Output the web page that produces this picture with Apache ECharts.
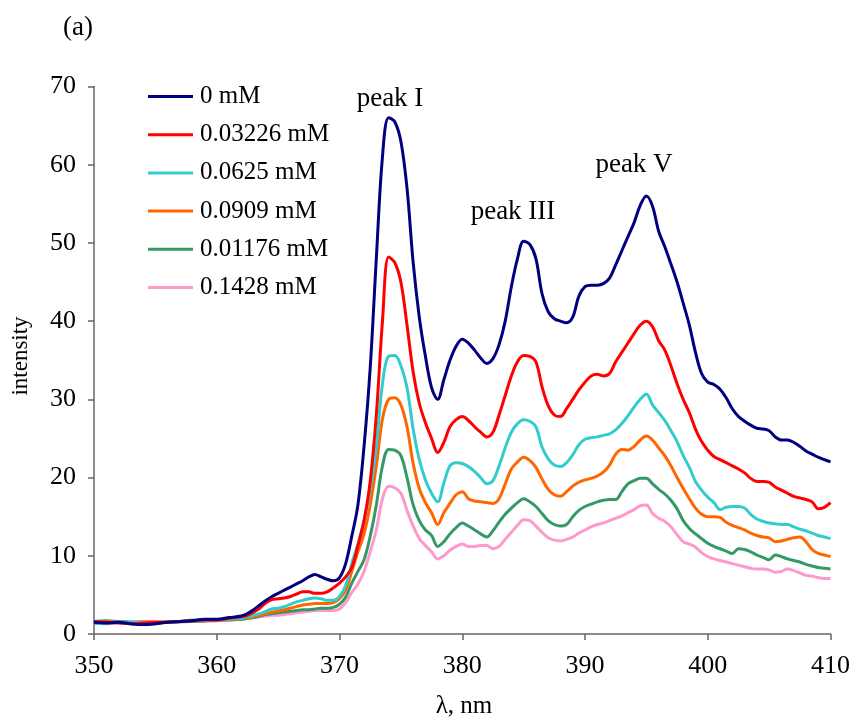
<!DOCTYPE html>
<html>
<head>
<meta charset="utf-8">
<script src="https://cdn.jsdelivr.net/npm/echarts@6/dist/echarts.min.js"></script>
<style>html,body{margin:0;padding:0;background:#fff;}#c{width:853px;height:721px;}</style>
</head>
<body>
<div id="c"></div>
<script>
var wavelength = [350,351,352,353,354,355,356,357,358,359,360,361,362,
362.5,363,363.5,364,364.5,365,365.5,366,366.5,367,367.5,368,368.5,369,369.5,370,370.5,371,371.5,372,372.5,373,373.5,374,374.5,375,375.5,376,376.5,377,377.5,378,378.5,379,379.5,380,380.5,381,381.5,382,382.5,383,383.5,384,384.5,385,385.5,386,386.5,387,387.5,388,388.5,389,389.5,390,390.5,391,391.5,392,392.5,393,393.5,394,394.5,395,395.5,396,396.5,397,397.5,398,398.5,399,399.5,400,400.5,401,401.5,402,402.5,403,403.5,404,404.5,405,405.5,406,406.5,407,407.5,408,408.5,409,409.5,410];

var s0mM = [1.5,1.4,1.5,1.3,1.2,1.3,1.5,1.6,1.7,1.9,1.9,2.1,2.3,
2.6,3.1,3.7,4.3,4.8,5.2,5.6,6.0,6.4,6.8,7.3,7.6,7.3,7.0,6.8,7.2,9.0,12.5,16.5,24,34,48,61,66,65.5,63,57,47.5,40.5,35.5,31.5,30.0,32.5,35.0,36.8,37.7,37.2,36.3,35.3,34.6,35.2,37.0,40.0,44.4,48.0,50.2,49.8,48.0,43.5,41.2,40.3,40.0,39.8,40.5,43.2,44.4,44.6,44.6,44.8,45.5,47.2,49.0,50.8,52.6,54.8,56.0,54.7,51.5,49.5,47.3,45.0,42.3,39.5,36.0,33.3,32.2,31.9,31.3,30.2,28.8,27.8,27.2,26.7,26.3,26.2,26.0,25.2,24.8,24.8,24.5,24.0,23.4,23.0,22.6,22.3,22.0];

var s03226mM = [1.6,1.5,1.4,1.3,1.4,1.5,1.5,1.6,1.7,1.8,1.8,2.0,2.2,
2.4,2.8,3.3,4.0,4.4,4.5,4.6,4.8,5.1,5.4,5.4,5.2,5.2,5.4,5.9,6.5,7.3,8.5,11.3,14.5,19.5,28,40,48.2,47.5,45,39.5,33.5,29.5,27.0,25.0,23.2,24.5,26.5,27.4,27.8,27.3,26.5,25.8,25.2,25.8,28.0,30.5,33.0,34.8,35.6,35.5,34.8,31.6,29.2,28.0,27.8,28.8,30.0,31.2,32.2,33.0,33.2,33.0,33.3,34.8,36.0,37.2,38.4,39.5,40.0,39.3,37.5,36.3,34.3,32.0,30.0,28.3,26.2,24.6,23.5,22.7,22.3,21.9,21.5,21.1,20.6,19.9,19.5,19.5,19.4,18.8,18.4,18.0,17.6,17.4,17.2,16.9,16.0,16.2,16.8];

var s0625mM = [1.3,1.4,1.5,1.5,1.4,1.4,1.5,1.6,1.8,1.7,1.8,1.9,2.0,
2.2,2.4,2.6,2.9,3.2,3.3,3.5,3.8,4.1,4.3,4.5,4.6,4.5,4.3,4.3,4.8,6.2,9.0,11.5,14.5,18.5,24,32,35.5,35.6,34.3,31.5,26.2,22.3,19.7,18.0,16.9,19.3,21.5,21.9,21.8,21.4,20.8,20.0,19.2,19.6,21.5,23.8,25.8,26.9,27.4,27.2,26.5,23.9,22.4,21.6,21.4,21.9,22.9,24.2,24.9,25.1,25.2,25.4,25.6,26.1,26.9,27.9,29.0,30.0,30.7,29.3,28.3,27.3,26.0,24.6,22.8,21.3,19.5,18.4,17.5,16.8,15.9,16.2,16.3,16.3,16.1,15.3,14.7,14.4,14.2,14.1,14.0,14.0,13.7,13.4,13.2,12.9,12.6,12.4,12.2];

var s0909mM = [1.5,1.6,1.5,1.4,1.5,1.5,1.6,1.6,1.7,1.7,1.8,1.9,2.0,
2.1,2.2,2.4,2.6,2.8,2.9,3.1,3.3,3.5,3.7,3.8,3.9,3.9,3.9,4.0,4.5,5.6,8.0,10.5,12.8,16.5,21.5,27.5,30.0,30.2,29.3,26.5,21.8,18.6,16.8,15.5,14.0,15.5,16.7,17.8,18.2,17.3,17.0,16.9,16.8,16.7,17.3,19.2,21.1,22.0,22.6,22.2,21.3,19.8,18.5,17.8,17.6,18.2,18.9,19.4,19.7,19.9,20.2,20.7,21.6,23.0,23.6,23.5,24.0,24.8,25.3,24.8,23.8,22.8,21.5,20.0,18.6,17.3,16.1,15.3,15.0,15.0,14.9,14.3,13.9,13.6,13.3,12.9,12.6,12.4,12.3,11.8,11.9,12.1,12.3,12.4,11.8,10.8,10.3,10.1,9.9];

var s01176mM = [1.6,1.7,1.6,1.5,1.5,1.4,1.5,1.6,1.6,1.7,1.8,1.8,1.9,
2.0,2.1,2.3,2.5,2.6,2.7,2.8,2.9,3.0,3.1,3.1,3.2,3.3,3.3,3.4,3.8,4.7,6.5,8.0,9.5,12.5,16.5,21.5,23.6,23.5,22.8,20.0,16.5,14.5,13.3,12.6,11.2,11.8,12.8,13.6,14.2,13.8,13.3,12.8,12.4,13.2,14.3,15.3,16.1,16.8,17.3,16.9,16.3,15.4,14.5,14.0,13.8,14.0,15.0,15.8,16.3,16.6,16.9,17.1,17.2,17.2,18.2,19.2,19.6,19.9,19.9,19.2,18.5,17.9,17.1,16.0,14.5,13.5,12.8,12.2,11.6,11.2,10.9,10.6,10.3,10.9,10.8,10.5,10.1,9.8,9.5,10.1,9.9,9.6,9.4,9.2,8.9,8.7,8.5,8.4,8.3];

var s1428mM = [1.4,1.3,1.6,1.6,1.6,1.6,1.5,1.5,1.6,1.6,1.7,1.8,1.9,
2.0,2.1,2.2,2.3,2.4,2.4,2.5,2.6,2.7,2.8,2.9,3.0,3.0,3.0,3.0,3.2,4.0,5.3,6.4,8.0,10.5,13.3,17.3,18.9,18.7,18.0,15.8,13.8,12.2,11.3,10.5,9.6,10.0,10.7,11.2,11.5,11.2,11.2,11.3,11.3,10.9,11.2,12.1,13.0,13.9,14.6,14.5,13.8,13.0,12.3,12.0,11.9,12.1,12.4,12.9,13.3,13.7,14.0,14.2,14.5,14.8,15.1,15.5,15.9,16.4,16.5,15.4,14.8,14.4,13.7,12.7,11.8,11.5,11.1,10.4,9.9,9.6,9.4,9.2,9.0,8.8,8.6,8.4,8.3,8.3,8.2,7.9,8.0,8.3,8.1,7.8,7.5,7.4,7.2,7.1,7.1];

var seriesNames = ['0 mM','0.03226 mM','0.0625 mM','0.0909 mM','0.01176 mM','0.1428 mM'];
var seriesValues = [s0mM, s03226mM, s0625mM, s0909mM, s01176mM, s1428mM];
var seriesColors = ['#000080','#FF0000','#33CCCC','#FF6600','#339966','#FF99CC'];
var xTicks = [350,360,370,380,390,400,410];
var yTicks = [0,10,20,30,40,50,60,70];
var peakLabels = ['peak I','peak III','peak V'];

var FONT = '"Liberation Serif", "Times New Roman", serif';
var chart = echarts.init(document.getElementById('c'), null, {renderer:'canvas'});

function pairs(vals){ return wavelength.map(function(x,i){ return [x, vals[i]]; }); }

var series = seriesNames.map(function(n,i){
  return {
    name: n, type: 'line', data: pairs(seriesValues[i]),
    showSymbol: false, symbol: 'none', smooth: 0.35,
    lineStyle: {width: 3, color: seriesColors[i]},
    itemStyle: {color: seriesColors[i]},
    z: 10 - i
  };
});

chart.setOption({
  animation: false,
  backgroundColor: '#fff',
  grid: {left: 94, right: 20, top: 86.5, bottom: 87, containLabel: false},
  xAxis: {
    type: 'value', min: xTicks[0], max: xTicks[xTicks.length-1], interval: 10,
    axisLine: {show: true, lineStyle: {color: '#666', width: 1.5}},
    axisTick: {show: true, inside: false, length: 6, lineStyle: {color: '#666', width: 1.5}},
    axisLabel: {color: '#000', fontFamily: FONT, fontSize: 26, margin: 19},
    splitLine: {show: false}
  },
  yAxis: {
    type: 'value', min: yTicks[0], max: yTicks[yTicks.length-1], interval: 10,
    axisLine: {show: true, lineStyle: {color: '#666', width: 1.5}},
    axisTick: {show: true, inside: false, length: 6, lineStyle: {color: '#666', width: 1.5}},
    axisLabel: {color: '#000', fontFamily: FONT, fontSize: 26, margin: 18},
    splitLine: {show: false}
  },
  legend: {
    orient: 'vertical', left: 148, top: 84, padding: 0,
    data: seriesNames, icon: 'rect', itemWidth: 45, itemHeight: 3, itemGap: 13.2,
    textStyle: {fontFamily: FONT, fontSize: 25, color: '#000', lineHeight: 25, padding: [0,0,0,2]},
    selectedMode: false
  },
  graphic: [
    {type: 'text', x: 78, y: 28, style: {text: '(a)', font: '27px ' + FONT, fill: '#000', textAlign: 'center', textVerticalAlign: 'middle'}},
    {type: 'text', x: 21, y: 356, rotation: Math.PI/2, style: {text: 'intensity', font: '23px ' + FONT, fill: '#000', textAlign: 'center', textVerticalAlign: 'middle'}},
    {type: 'text', x: 464, y: 706, style: {text: 'λ, nm', font: '25px ' + FONT, fill: '#000', textAlign: 'center', textVerticalAlign: 'middle'}},
    {type: 'text', x: 390, y: 99, style: {text: peakLabels[0], font: '27px ' + FONT, fill: '#000', textAlign: 'center', textVerticalAlign: 'middle'}},
    {type: 'text', x: 513, y: 212, style: {text: peakLabels[1], font: '27px ' + FONT, fill: '#000', textAlign: 'center', textVerticalAlign: 'middle'}},
    {type: 'text', x: 634, y: 165, style: {text: peakLabels[2], font: '27px ' + FONT, fill: '#000', textAlign: 'center', textVerticalAlign: 'middle'}}
  ],
  series: series
});
</script>
</body>
</html>
